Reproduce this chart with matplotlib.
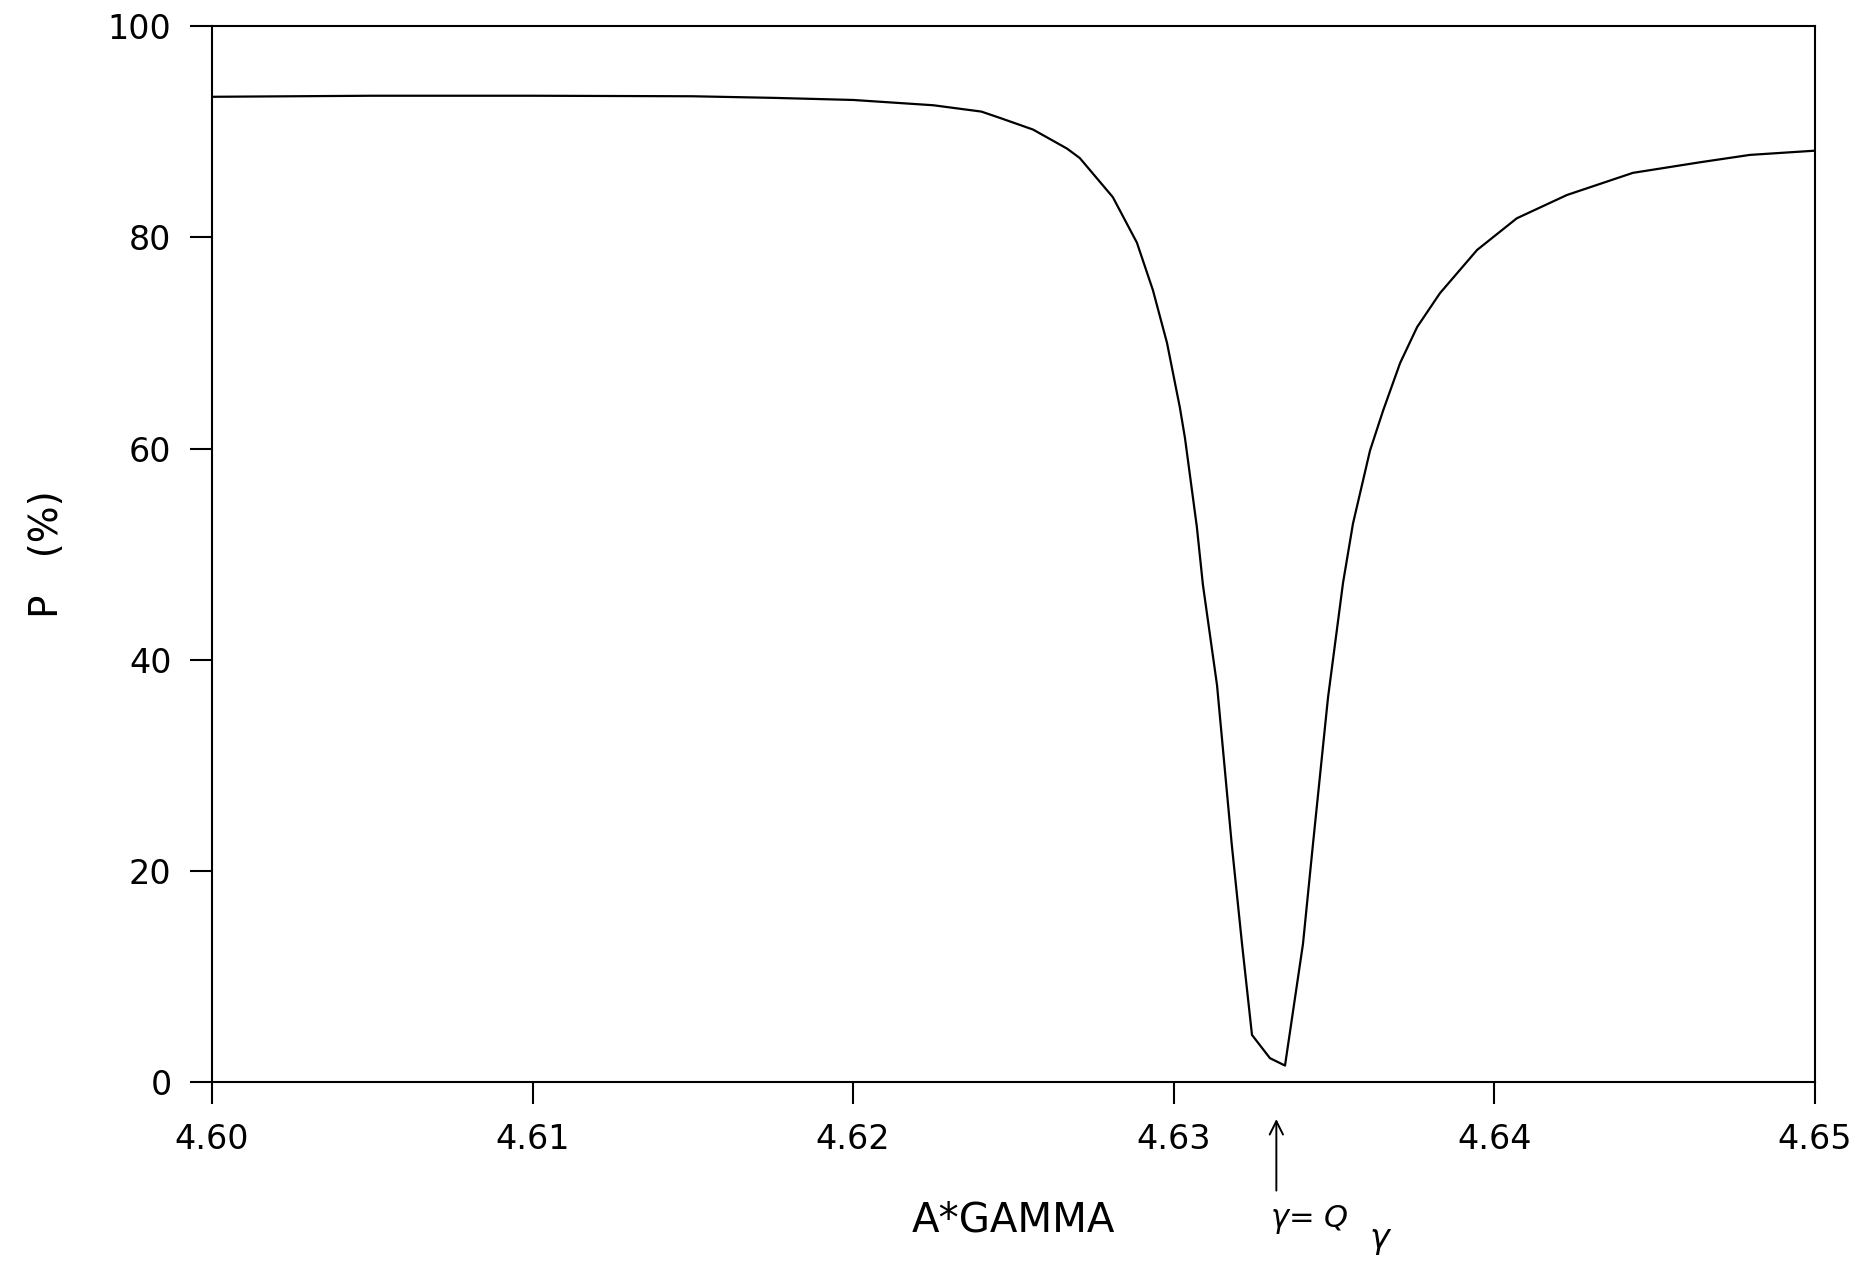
import numpy as np
import matplotlib
matplotlib.use("Agg")
import matplotlib.pyplot as plt

a_gamma = [4.600, 4.605, 4.610, 4.615, 4.6175, 4.620, 4.6225, 4.6240, 4.62458, 4.62561,
           4.62667, 4.62707, 4.62810, 4.62885, 4.62935, 4.62979, 4.63019, 4.63035,
           4.63072, 4.63091, 4.63135, 4.63181, 4.63213, 4.63244, 4.6330, 4.63347,
           4.63403, 4.63434, 4.63481, 4.63528, 4.63559, 4.63612, 4.63653, 4.63706,
           4.63759, 4.63830, 4.63946, 4.64070, 4.64226, 4.64432,
           4.64641, 4.64797, 4.650]
p_pct = [93.3, 93.4, 93.4, 93.35, 93.2, 93.0, 92.5, 91.9, 91.3, 90.2,
         88.4, 87.5, 83.8, 79.5, 75.0, 70.0, 63.9, 61.0,
         52.6, 47.1, 37.6, 22.5, 13.1, 4.5, 2.3, 1.6,
         13.1, 22.5, 36.4, 47.3, 52.9, 59.8, 63.6, 68.1,
         71.5, 74.7, 78.8, 81.8, 84.0, 86.1,
         87.1, 87.8, 88.2]

x_ticks = [4.60, 4.61, 4.62, 4.63, 4.64, 4.65]
y_ticks = [0, 20, 40, 60, 80, 100]
resonance_x = 4.6332

plt.rcParams['font.family'] = ['DejaVu Sans']

fig = plt.figure(figsize=(18.75, 12.69), dpi=100)
ax = fig.add_axes([0.113, 0.147, 0.855, 0.8325])

ax.plot(a_gamma, p_pct, color='black', linewidth=1.6)

ax.set_xlim(4.60, 4.65)
ax.set_ylim(0, 100)
ax.set_xticks(x_ticks)
ax.set_xticklabels([f"{v:.2f}" for v in x_ticks])
ax.set_yticks(y_ticks)

for s in ax.spines.values():
    s.set_linewidth(1.5)

ax.tick_params(axis='both', direction='out', length=16, width=1.5,
               labelsize=24, pad=13)

ax.set_xlabel('A*GAMMA', fontsize=29, labelpad=32)
ax.set_ylabel('P   (%)', fontsize=28, labelpad=30)

# hand-written resonance marker under the axis
ax.annotate('', xy=(resonance_x, -3.2), xytext=(resonance_x, -10.5),
            xycoords='data', textcoords='data', annotation_clip=False,
            arrowprops=dict(arrowstyle='->', color='black', lw=1.4,
                            mutation_scale=24))
ax.text(resonance_x - 0.0002, -13.0, r'$\gamma$= $Q$', fontsize=22,
        ha='left', va='center', clip_on=False)
ax.text(resonance_x + 0.0029, -15.0, r'$\gamma$', fontsize=24,
        ha='left', va='center', clip_on=False)

fig.savefig('out.png', dpi=100)
